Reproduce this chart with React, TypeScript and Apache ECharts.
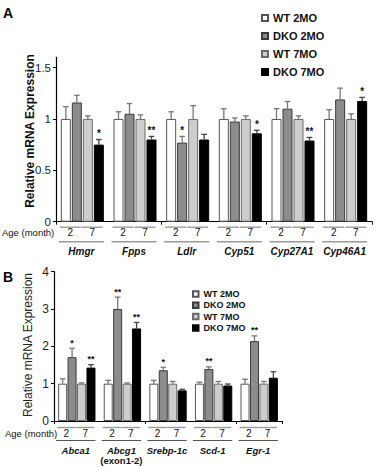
import React, { useEffect, useRef } from "react";
import * as echarts from "echarts";

const seriesNames = ["WT 2MO", "DKO 2MO", "WT 7MO", "DKO 7MO"];
const ageLabels = ["2", "7"];

// Panel A
const genesA = ["Hmgr", "Fpps", "Ldlr", "Cyp51", "Cyp27A1", "Cyp46A1"];
const wt2A = [1, 1, 1, 1, 1, 1];
const wt2ErrA = [0.12, 0.07, 0.07, 0.1, 0.1, 0.09];
const dko2A = [1.16, 1.05, 0.77, 0.975, 1.1, 1.19];
const dko2ErrA = [0.07, 0.1, 0.06, 0.035, 0.07, 0.11];
const wt7A = [1, 1, 1, 1, 1, 1];
const wt7ErrA = [0.03, 0.04, 0.13, 0.03, 0.03, 0.05];
const dko7A = [0.75, 0.8, 0.8, 0.86, 0.79, 1.175];
const dko7ErrA = [0.05, 0.03, 0.05, 0.03, 0.03, 0.035];
const starsWt2A = ["", "", "", "", "", ""];
const starsDko2A = ["", "", "*", "", "", ""];
const starsWt7A = ["", "", "", "", "", ""];
const starsDko7A = ["*", "**", "", "*", "**", "*"];
const yTicksA = [0, 0.5, 1, 1.5];

// Panel B
const genesB = ["Abca1", "Abcg1", "Srebp-1c", "Scd-1", "Egr-1"];
const genesSubB = ["", "(exon1-2)", "", "", ""];
const wt2B = [1, 1, 1, 1, 1];
const wt2ErrB = [0.13, 0.09, 0.09, 0.04, 0.12];
const dko2B = [1.71, 3.0, 1.36, 1.39, 2.14];
const dko2ErrB = [0.24, 0.32, 0.08, 0.06, 0.14];
const wt7B = [1, 1, 1, 1, 1];
const wt7ErrB = [0.02, 0.02, 0.06, 0.06, 0.06];
const dko7B = [1.43, 2.48, 0.82, 0.95, 1.16];
const dko7ErrB = [0.08, 0.16, 0.03, 0.04, 0.16];
const starsWt2B = ["", "", "", "", ""];
const starsDko2B = ["*", "**", "*", "**", "**"];
const starsWt7B = ["", "", "", "", ""];
const starsDko7B = ["**", "**", "", "", ""];
const yTicksB = [0, 1, 2, 3, 4];

const FONT = "'Liberation Sans', Arial, Helvetica, sans-serif";
const fills = ["#ffffff", "#8c8c8c", "#cdcdcd", "#000000"];
const borders = ["#555555", "#3a3a3a", "#6a6a6a", "#000000"];

function buildPanel(opts: {
  idx: number;
  genes: string[];
  subs?: string[];
  vals: number[][];
  errs: number[][];
  stars: string[][];
  barW: number;
  gapPct: number;
  starSize: number;
  note: {
    pairY: number;
    ageY: number;
    groupY: number;
    nameY: number;
    subY: number;
    nameSize: number;
    ageSize: number;
    groupColor: string;
    groupWidth: number;
  };
}) {
  const { idx, genes, subs, vals, errs, stars, barW, gapPct, starSize, note } = opts;
  const series: any[] = [];
  vals.forEach((v, k) => {
    series.push({
      type: "bar",
      name: seriesNames[k],
      xAxisIndex: idx,
      yAxisIndex: idx,
      data: v,
      barWidth: barW,
      barGap: gapPct * 100 + "%",
      itemStyle: { color: fills[k], borderColor: borders[k], borderWidth: 1 },
      z: 2,
    });
  });
  vals.forEach((v, k) => {
    const e = errs[k];
    const st = stars[k];
    series.push({
      type: "custom",
      name: "err" + idx + "_" + k,
      xAxisIndex: idx,
      yAxisIndex: idx,
      clip: false,
      z: 3,
      encode: { x: 0, y: [1, 2] },
      data: v.map((y, i) => [i, y, y + e[i]]),
      renderItem: (params: any, api: any) => {
        const i = api.value(0);
        const base = api.coord([i, api.value(1)]);
        const top = api.coord([i, api.value(2)]);
        const x = base[0] + (k - 1.5) * barW * (1 + gapPct);
        const cap = 2.8;
        const col = k === 3 ? "#444" : "#777";
        const children: any[] = [
          {
            type: "line",
            shape: { x1: x, y1: base[1], x2: x, y2: top[1] },
            style: { stroke: col, lineWidth: 1.3 },
          },
          {
            type: "line",
            shape: { x1: x - cap, y1: top[1], x2: x + cap, y2: top[1] },
            style: { stroke: col, lineWidth: 1.3 },
          },
        ];
        const s = st[params.dataIndex];
        if (s) {
          children.push({
            type: "text",
            x: x,
            y: top[1] - 1,
            style: {
              text: s,
              fill: "#111",
              fontSize: starSize,
              fontWeight: "bold",
              fontFamily: FONT,
              align: "center",
              verticalAlign: "bottom",
            },
          });
        }
        return { type: "group", children };
      },
    });
  });
  // annotations under the axis
  series.push({
    type: "custom",
    name: "notes" + idx,
    xAxisIndex: idx,
    yAxisIndex: idx,
    clip: false,
    silent: true,
    z: 3,
    encode: { x: 0, y: 1 },
    data: genes.map((g, i) => [i, 0]),
    renderItem: (params: any, api: any) => {
      const i = api.value(0);
      const p = api.coord([i, 0]);
      const step = barW * (1 + gapPct);
      const total = 4 * barW + 3 * barW * gapPct;
      const start = p[0] - total / 2;
      const end = start + total;
      const children: any[] = [];
      for (let j = 0; j < 2; j++) {
        const a = start + 2 * j * step;
        const b = a + step + barW;
        children.push({
          type: "line",
          shape: { x1: a - 1, y1: p[1] + note.pairY, x2: b - 1, y2: p[1] + note.pairY },
          style: { stroke: "#9a9a9a", lineWidth: 1.4 },
        });
        children.push({
          type: "text",
          x: (a + b) / 2 - 1,
          y: p[1] + note.ageY,
          style: {
            text: ageLabels[j],
            fill: "#111",
            fontSize: note.ageSize,
            fontFamily: FONT,
            align: "center",
            verticalAlign: "middle",
          },
        });
      }
      children.push({
        type: "line",
        shape: { x1: start - 2, y1: p[1] + note.groupY, x2: end, y2: p[1] + note.groupY },
        style: { stroke: note.groupColor, lineWidth: note.groupWidth },
      });
      children.push({
        type: "text",
        x: (start + end) / 2 - 1,
        y: p[1] + note.nameY,
        style: {
          text: genes[params.dataIndex],
          fill: "#111",
          fontSize: note.nameSize,
          fontWeight: "bold",
          fontStyle: "italic",
          fontFamily: FONT,
          align: "center",
          verticalAlign: "middle",
        },
      });
      const sub = subs ? subs[params.dataIndex] : "";
      if (sub) {
        children.push({
          type: "text",
          x: (start + end) / 2 - 1,
          y: p[1] + note.subY,
          style: {
            text: sub,
            fill: "#111",
            fontSize: note.nameSize,
            fontWeight: "bold",
            fontFamily: FONT,
            align: "center",
            verticalAlign: "middle",
          },
        });
      }
      return { type: "group", children };
    },
  });
  return series;
}

export default function App() {
  const ref = useRef<HTMLDivElement>(null);
  useEffect(() => {
    if (!ref.current) return;
    const chart = echarts.init(ref.current, undefined, { renderer: "svg" });
    const seriesA = buildPanel({
      idx: 0,
      genes: genesA,
      vals: [wt2A, dko2A, wt7A, dko7A],
      errs: [wt2ErrA, dko2ErrA, wt7ErrA, dko7ErrA],
      stars: [starsWt2A, starsDko2A, starsWt7A, starsDko7A],
      barW: 10,
      gapPct: 0.1,
      starSize: 10,
      note: {
        pairY: 5.5,
        ageY: 10.5,
        groupY: 20,
        nameY: 29.5,
        subY: 40,
        nameSize: 10,
        ageSize: 10,
        groupColor: "#9a9a9a",
        groupWidth: 1.5,
      },
    });
    const seriesB = buildPanel({
      idx: 1,
      genes: genesB,
      subs: genesSubB,
      vals: [wt2B, dko2B, wt7B, dko7B],
      errs: [wt2ErrB, dko2ErrB, wt7ErrB, dko7ErrB],
      stars: [starsWt2B, starsDko2B, starsWt7B, starsDko7B],
      barW: 9,
      gapPct: 0.05,
      starSize: 9,
      note: {
        pairY: 6.5,
        ageY: 12,
        groupY: 19.5,
        nameY: 29,
        subY: 39,
        nameSize: 9.5,
        ageSize: 10,
        groupColor: "#555",
        groupWidth: 1,
      },
    });
    const axisLine = { show: true, lineStyle: { color: "#000", width: 1.2 } };
    chart.setOption({
      animation: false,
      backgroundColor: "#fff",
      textStyle: { fontFamily: FONT },
      grid: [
        { left: 56, top: 57.3, width: 316, height: 164.4 },
        { left: 54, top: 271.7, width: 228, height: 149.3 },
      ],
      xAxis: [
        {
          type: "category",
          gridIndex: 0,
          data: genesA,
          axisLine,
          axisTick: { show: true, length: 3, lineStyle: { color: "#000" } },
          axisLabel: { show: false },
        },
        {
          type: "category",
          gridIndex: 1,
          data: genesB,
          axisLine,
          axisTick: { show: true, length: 3, lineStyle: { color: "#000" } },
          axisLabel: { show: false },
        },
      ],
      yAxis: [
        {
          type: "value",
          gridIndex: 0,
          min: 0,
          max: 1.6,
          interval: 0.5,
          axisLine,
          splitLine: { show: false },
          axisTick: { show: true, length: 3, customValues: yTicksA, lineStyle: { color: "#000" } },
          axisLabel: {
            customValues: yTicksA,
            fontSize: 11.5,
            color: "#222",
            margin: 5,
            fontFamily: FONT,
          },
        },
        {
          type: "value",
          gridIndex: 1,
          min: 0,
          max: 4,
          interval: 1,
          axisLine,
          splitLine: { show: false },
          axisTick: { show: true, length: 3, customValues: yTicksB, lineStyle: { color: "#000" } },
          axisLabel: {
            customValues: yTicksB,
            fontSize: 12,
            color: "#222",
            margin: 5,
            fontFamily: FONT,
          },
        },
      ],
      legend: [
        {
          data: seriesNames,
          orient: "vertical",
          left: 256,
          top: 7,
          itemWidth: 6,
          itemHeight: 6,
          itemGap: 6,
          icon: "rect",
          selectedMode: false,
          textStyle: { fontSize: 11, fontWeight: "bold", lineHeight: 12, color: "#111", fontFamily: FONT },
        },
        {
          data: seriesNames,
          orient: "vertical",
          left: 187,
          top: 284,
          itemWidth: 5.5,
          itemHeight: 5.5,
          itemGap: 1.3,
          icon: "rect",
          selectedMode: false,
          textStyle: { fontSize: 9, fontWeight: "bold", lineHeight: 10, color: "#111", fontFamily: FONT },
        },
      ],
      graphic: [
        {
          type: "text",
          left: 3,
          top: 6,
          style: { text: "A", fontSize: 14, fontWeight: "bold", fill: "#000", fontFamily: FONT },
        },
        {
          type: "text",
          left: 3,
          top: 270,
          style: { text: "B", fontSize: 14, fontWeight: "bold", fill: "#000", fontFamily: FONT },
        },
        {
          type: "text",
          x: 30,
          y: 131,
          rotation: Math.PI / 2,
          style: {
            text: "Relative mRNA Expression",
            fontSize: 12,
            fontWeight: "bold",
            fill: "#111",
            fontFamily: FONT,
            align: "center",
            verticalAlign: "middle",
          },
        },
        {
          type: "text",
          x: 27.5,
          y: 345,
          rotation: Math.PI / 2,
          style: {
            text: "Relative mRNA Expression",
            fontSize: 12,
            fill: "#222",
            fontFamily: FONT,
            align: "center",
            verticalAlign: "middle",
          },
        },
        {
          type: "text",
          x: 2,
          y: 232,
          style: {
            text: "Age (month)",
            fontSize: 9.5,
            fill: "#111",
            fontFamily: FONT,
            align: "left",
            verticalAlign: "middle",
          },
        },
        {
          type: "text",
          x: 5,
          y: 433,
          style: {
            text: "Age (month)",
            fontSize: 9.5,
            fill: "#111",
            fontFamily: FONT,
            align: "left",
            verticalAlign: "middle",
          },
        },
      ],
      series: [...seriesA, ...seriesB],
    });
    return () => chart.dispose();
  }, []);
  return (
    <div
      ref={ref}
      style={{ position: "fixed", left: 0, top: 0, width: 381, height: 468, background: "#fff" }}
    />
  );
}
